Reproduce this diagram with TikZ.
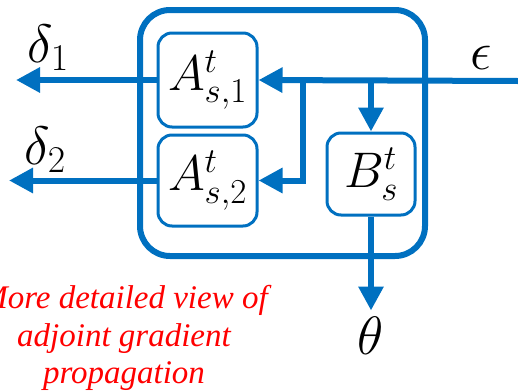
\RequirePackage{fix-cm}
\documentclass[tikz,border=0pt]{standalone}
\usepackage{fontspec}
\newfontfamily\redfont{Liberation Serif}
\usetikzlibrary{arrows.meta,calc}
\definecolor{pblue}{RGB}{0,112,192}
\tikzset{
  outerbox/.style={draw=pblue,line width=6pt,rounded corners=30pt},
  blk/.style={draw=pblue,line width=3pt,rounded corners=14pt,inner sep=0pt,font=\fontsize{50}{56}\selectfont},
  flow/.style={draw=pblue,line width=6pt,-{Triangle[length=24pt,width=24pt]}},
  lbl/.style={inner sep=0pt,font=\fontsize{54}{60}\selectfont},
  note/.style={text=red,align=center,font=\redfont\itshape\fontsize{33}{37.5}\selectfont}
}
\begin{document}
\begin{tikzpicture}[x=1pt,y=-1pt]
\useasboundingbox (0,0) rectangle (518,391);
\draw[outerbox] (140,10) rectangle (425,256);
\node[blk,minimum width=99pt,minimum height=94pt] (A1) at (207.5,80) {$A^t_{s,1}$};
\node[blk,minimum width=99pt,minimum height=91pt] (A2) at (207.5,180.5) {$A^t_{s,2}$};
\node[blk,minimum width=88pt,minimum height=82pt] (B) at (371,174) {$B^t_s$};
\coordinate (epsin) at (518,81);
\coordinate (j1) at (303,81);
\coordinate (j2) at (371,81);
\coordinate (d1) at (16,80);
\coordinate (d2) at (9,180.5);
\node[lbl] (eps) at (481,58) {$\epsilon$};
\node[lbl] (del1) at (48,48) {$\delta_1$};
\node[lbl] (del2) at (45,150) {$\delta_2$};
\node[lbl] (theta) at (371,336) {$\theta$};
\draw[flow] (epsin) -- (A1.east);
\draw[flow] (j1) |- (A2.east);
\draw[flow] (j2) -- (B.north);
\draw[flow] (B.south) -- ($(B.south)+(0,94)$);
\draw[flow] (A1.west) -- (d1);
\draw[flow] (A2.west) -- (d2);
\node[note] (txt) at (124,338) {More detailed view of\\adjoint gradient\\propagation};
\end{tikzpicture}
\end{document}
